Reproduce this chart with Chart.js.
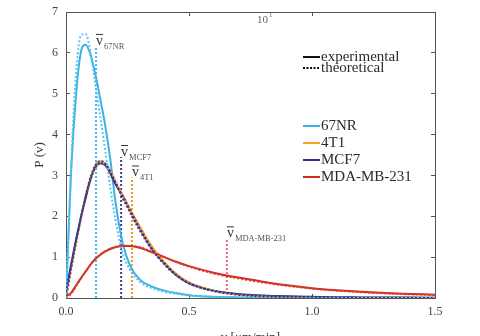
<!DOCTYPE html>
<html>
<head>
<meta charset="utf-8">
<script src="https://cdn.jsdelivr.net/npm/chart.js@4.4.0/dist/chart.umd.min.js"></script>
<style>
  html, body { margin: 0; padding: 0; background: #fff; }
</style>
</head>
<body>
<canvas id="speed-chart" width="480" height="336"></canvas>
<script>
// speed grid (µm/min) shared by every distribution
const speeds = [0, 0.02, 0.04, 0.06, 0.08, 0.10, 0.12, 0.14, 0.16, 0.18, 0.20, 0.23, 0.26, 0.30,
  0.35, 0.40, 0.45, 0.50, 0.60, 0.70, 0.80, 0.90, 1.00, 1.10, 1.20, 1.30, 1.40, 1.50];

const exp67NR = [0, 3.0, 4.9, 6.0, 6.2, 5.95, 5.45, 4.85, 4.2, 3.4, 2.4, 1.35, 0.8, 0.45,
  0.28, 0.18, 0.12, 0.07, 0.03, 0.015, 0.01, 0.005, 0, 0, 0, 0, 0, 0];
const theo67NR = [0, 3.1, 5.4, 6.42, 6.46, 6.0, 5.2, 4.4, 3.6, 2.7, 1.95, 1.1, 0.7, 0.4,
  0.24, 0.15, 0.1, 0.06, 0.025, 0.01, 0.005, 0, 0, 0, 0, 0, 0, 0];
const exp4T1 = [0.1, 0.75, 1.35, 1.95, 2.5, 2.95, 3.25, 3.35, 3.28, 3.1, 2.85, 2.52, 2.18, 1.75,
  1.25, 0.88, 0.58, 0.38, 0.18, 0.09, 0.05, 0.035, 0.025, 0.015, 0.01, 0.01, 0.005, 0.005];
const theo4T1 = [0, 0.65, 1.3, 1.9, 2.45, 2.9, 3.2, 3.32, 3.28, 3.12, 2.88, 2.5, 2.15, 1.72,
  1.24, 0.87, 0.58, 0.38, 0.17, 0.08, 0.04, 0.02, 0.01, 0.005, 0, 0, 0, 0];
const expMCF7 = [0.15, 0.8, 1.4, 1.95, 2.45, 2.9, 3.2, 3.3, 3.25, 3.05, 2.8, 2.5, 2.15, 1.7,
  1.2, 0.85, 0.55, 0.36, 0.18, 0.1, 0.06, 0.04, 0.03, 0.02, 0.015, 0.01, 0.01, 0.005];
const theoMCF7 = [0, 0.7, 1.35, 1.95, 2.5, 2.95, 3.25, 3.35, 3.3, 3.1, 2.85, 2.45, 2.1, 1.65,
  1.18, 0.82, 0.55, 0.36, 0.17, 0.08, 0.04, 0.02, 0.01, 0.005, 0, 0, 0, 0];
const expMDA = [0.05, 0.12, 0.3, 0.48, 0.65, 0.82, 0.96, 1.06, 1.14, 1.2, 1.24, 1.27, 1.27, 1.23,
  1.12, 1.0, 0.88, 0.78, 0.62, 0.5, 0.4, 0.31, 0.24, 0.19, 0.15, 0.12, 0.1, 0.08];
const theoMDA = [0, 0.1, 0.28, 0.47, 0.65, 0.82, 0.96, 1.07, 1.15, 1.21, 1.25, 1.28, 1.28, 1.24,
  1.13, 1.0, 0.88, 0.77, 0.6, 0.48, 0.38, 0.3, 0.23, 0.18, 0.14, 0.11, 0.09, 0.07];

const cellLines = ['67NR', '4T1', 'MCF7', 'MDA-MB-231'];
const lineColors = ['#3cb2e4', '#f5a028', '#2e2f8c', '#d32a1f'];
const theoColors = ['#5cc3ee', '#f7a83a', '#34369a', '#d8402c'];
const meanColors = ['#45b9ea', '#f7941d', '#3a3a9a', '#f0687c'];
const meanSpeeds = [0.122, 0.268, 0.224, 0.654];
const meanHeights = [6.17, 2.95, 3.45, 1.46];
const meanSubs = ['67NR', '4T1', 'MCF7', 'MDA-MB-231'];
const xTicks = [0, 0.5, 1.0, 1.5];
const yTicks = [0, 1, 2, 3, 4, 5, 6, 7];

const expSeries = [exp67NR, exp4T1, expMCF7, expMDA];
const theoSeries = [theo67NR, theo4T1, theoMCF7, theoMDA];

const toPoints = ys => speeds.map((v, i) => ({ x: v, y: ys[i] }));

const datasets = [];
// dotted theoretical curves on top, then solid measured ones, then mean markers
[0, 3, 2, 1].forEach(i => {
  datasets.push({
    label: cellLines[i] + ' theoretical',
    data: toPoints(theoSeries[i]),
    borderColor: theoColors[i],
    borderWidth: 2,
    borderDash: [2, 2],
    pointRadius: 0,
    cubicInterpolationMode: 'monotone'
  });
});
[3, 2, 1, 0].forEach(i => {
  datasets.push({
    label: cellLines[i] + ' experimental',
    data: toPoints(expSeries[i]),
    borderColor: lineColors[i],
    borderWidth: 2,
    pointRadius: 0,
    cubicInterpolationMode: 'monotone'
  });
});
meanSpeeds.forEach((m, i) => {
  datasets.push({
    label: 'mean ' + cellLines[i],
    data: [{ x: m, y: 0 }, { x: m, y: meanHeights[i] }],
    borderColor: meanColors[i],
    borderWidth: 2,
    borderDash: [2, 2],
    pointRadius: 0
  });
});

const serif = '"Liberation Serif", "DejaVu Serif", serif';

// legend with two groups, drawn inside the plot box
const legendPlugin = {
  id: 'twoGroupLegend',
  afterDraw(chart) {
    const ctx = chart.ctx;
    ctx.save();
    ctx.font = '15px ' + serif;
    ctx.textBaseline = 'middle';
    ctx.fillStyle = '#2a2a2a';
    ctx.lineWidth = 2;
    const x0 = 303, x1 = 320, tx = 321;
    ctx.strokeStyle = '#111';
    ctx.beginPath(); ctx.moveTo(x0, 57); ctx.lineTo(x1, 57); ctx.stroke();
    ctx.fillText('experimental', tx, 57);
    ctx.setLineDash([2, 1.5]);
    ctx.beginPath(); ctx.moveTo(x0, 68); ctx.lineTo(x1, 68); ctx.stroke();
    ctx.setLineDash([]);
    ctx.fillText('theoretical', tx, 68);
    const rows = [126, 143, 160, 177];
    cellLines.forEach((name, i) => {
      ctx.strokeStyle = lineColors[i];
      ctx.beginPath(); ctx.moveTo(x0, rows[i]); ctx.lineTo(x1, rows[i]); ctx.stroke();
      ctx.fillText(name, tx, rows[i]);
    });
    ctx.restore();
  }
};

// v-bar labels next to each mean marker, plus the stray exponent on top
const annotationPlugin = {
  id: 'meanLabels',
  afterDraw(chart) {
    const { ctx, scales } = chart;
    ctx.save();
    meanSpeeds.forEach((m, i) => {
      const px = scales.x.getPixelForValue(m);
      const py = scales.y.getPixelForValue(meanHeights[i]);
      ctx.fillStyle = '#333';
      ctx.font = '14px ' + serif;
      ctx.textBaseline = 'alphabetic';
      ctx.fillText('v', px, py - 1);
      ctx.strokeStyle = '#333';
      ctx.lineWidth = 1;
      ctx.beginPath(); ctx.moveTo(px, py - 11.5); ctx.lineTo(px + 7, py - 11.5); ctx.stroke();
      ctx.fillStyle = '#555';
      ctx.font = '8.5px ' + serif;
      ctx.fillText(meanSubs[i].toUpperCase(), px + 8, py + 3);
    });
    ctx.fillStyle = '#666';
    ctx.font = '11px ' + serif;
    ctx.fillText('10', 257, 23);
    ctx.font = '7px ' + serif;
    ctx.fillText('1', 269, 17);
    ctx.restore();
  }
};

const innerTicks = { drawOnChartArea: false, drawTicks: true, tickLength: -4, color: '#555', lineWidth: 1 };
const axisBorder = { display: true, color: '#555', width: 1 };

// fixed box sizes so the plot area lands at 66..435 x 12..298
const fixSize = (w, h) => s => {
  if (w !== null) s.width = w;
  if (h !== null) s.height = h;
  s.paddingTop = 0; s.paddingBottom = 0; s.paddingLeft = 0; s.paddingRight = 0;
};

new Chart(document.getElementById('speed-chart').getContext('2d'), {
  type: 'line',
  data: { datasets },
  options: {
    responsive: false,
    animation: false,
    devicePixelRatio: 1,
    layout: { padding: { top: 12, right: 45, left: 0, bottom: 0 } },
    plugins: { legend: { display: false }, tooltip: { enabled: false } },
    scales: {
      x: {
        type: 'linear', position: 'bottom', min: 0, max: 1.5,
        afterBuildTicks: s => { s.ticks = xTicks.map(v => ({ value: v })); },
        afterFit: fixSize(null, 38),
        grid: innerTicks,
        border: axisBorder,
        ticks: { padding: 11, color: '#444', font: { family: serif, size: 12 }, callback: v => v.toFixed(1) },
        title: { display: true, text: 'v [μm/min]', color: '#333', font: { family: serif, size: 13 }, padding: { top: 0, bottom: -9 } }
      },
      y: {
        type: 'linear', position: 'left', min: 0, max: 7,
        afterBuildTicks: s => { s.ticks = yTicks.map(v => ({ value: v })); },
        afterFit: fixSize(66, null),
        grid: innerTicks,
        border: axisBorder,
        ticks: { padding: 12, color: '#444', font: { family: serif, size: 12 } },
        title: { display: true, text: 'P (v)', color: '#333', font: { family: serif, size: 13 }, padding: { top: 32, bottom: 0 } }
      },
      xTop: {
        type: 'linear', position: 'top', min: 0, max: 1.5,
        afterBuildTicks: s => { s.ticks = xTicks.map(v => ({ value: v })); },
        afterFit: fixSize(null, 0),
        grid: innerTicks,
        border: axisBorder,
        ticks: { display: false }
      },
      yRight: {
        type: 'linear', position: 'right', min: 0, max: 7,
        afterBuildTicks: s => { s.ticks = yTicks.map(v => ({ value: v })); },
        afterFit: fixSize(0, null),
        grid: innerTicks,
        border: axisBorder,
        ticks: { display: false }
      }
    }
  },
  plugins: [legendPlugin, annotationPlugin]
});
</script>
</body>
</html>
